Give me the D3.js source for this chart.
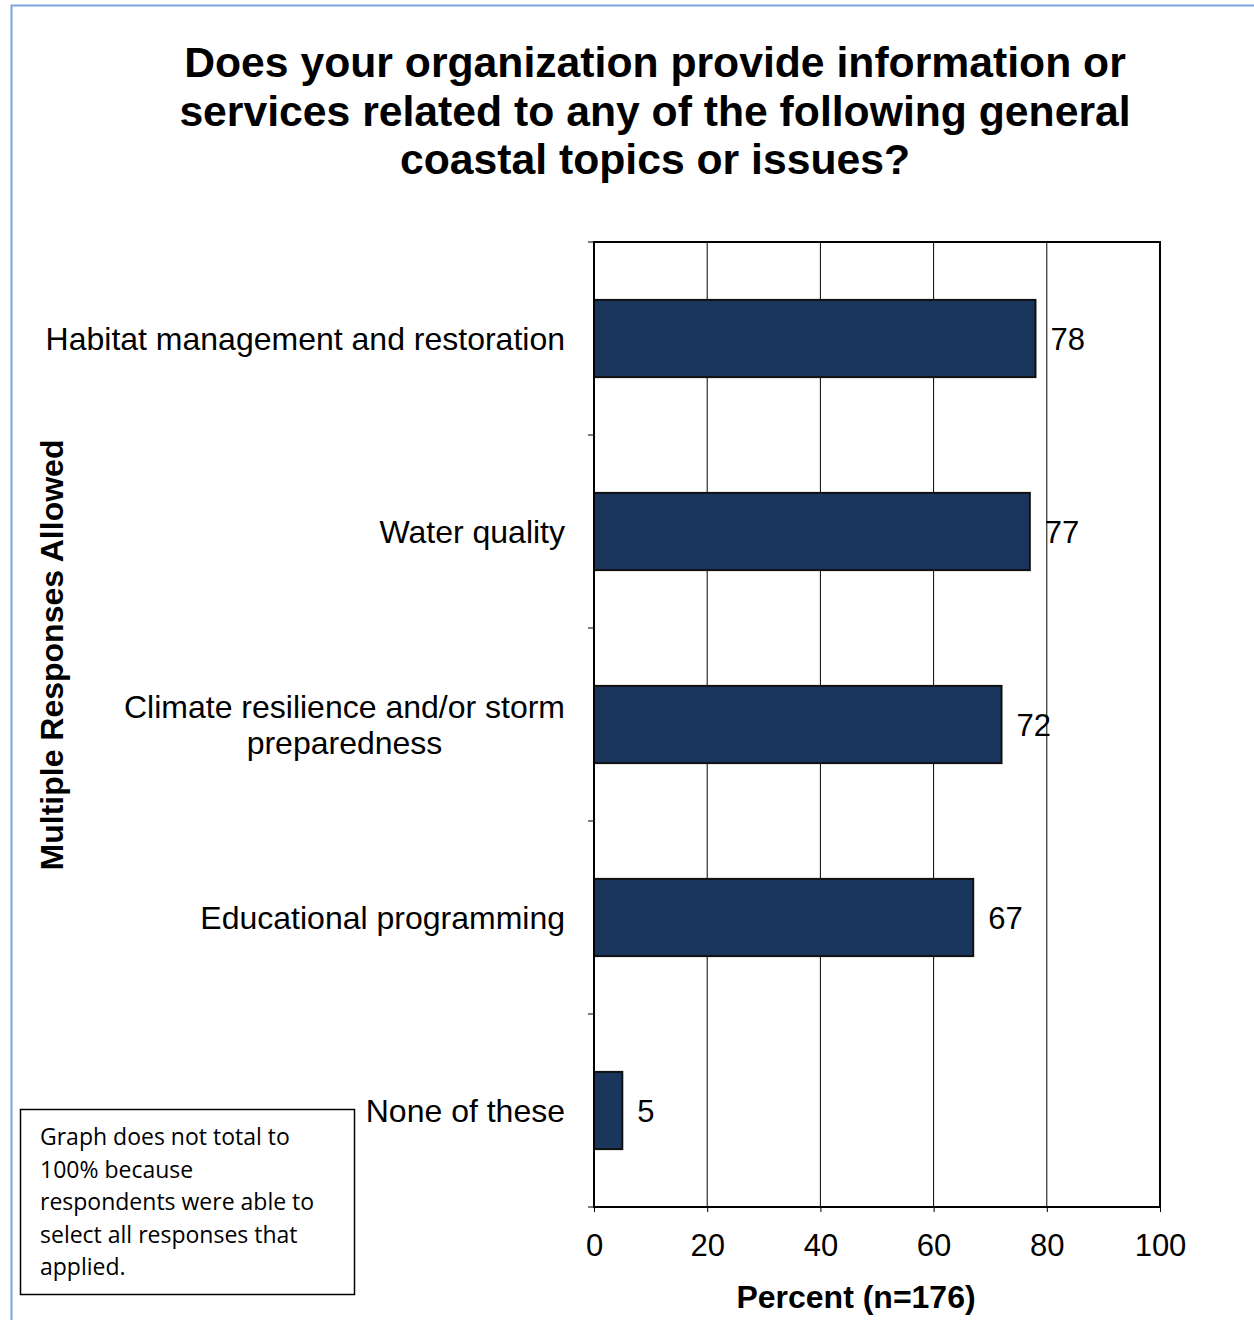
<!DOCTYPE html>
<html><head><meta charset="utf-8">
<script src="https://cdn.jsdelivr.net/npm/d3@7"></script>
<style>body{margin:0;background:#fff}svg{display:block}</style>
</head><body><svg id="c" width="1254" height="1320"></svg>
<script>
const categories = [["Habitat management and restoration"],["Water quality"],["Climate resilience and/or storm","preparedness"],["Educational programming"],["None of these"]];
const values = [78,77,72,67,5];
const xTicks = [0,20,40,60,80,100];
const titleLines = ["Does your organization provide information or","services related to any of the following general","coastal topics or issues?"];
const noteLines = ["Graph does not total to","100% because","respondents were able to","select all responses that","applied."];

const FF = "'Liberation Sans', Arimo, Arial, sans-serif";
const svg = d3.select("#c");
const L=594,R=1160,T=242,B=1207;
const x = d3.scaleLinear().domain([0,100]).range([L,R]);
const y = d3.scaleBand().domain(d3.range(categories.length)).range([T,B]).paddingInner(0.6).paddingOuter(0.3);
const band = d3.scaleBand().domain(d3.range(categories.length)).range([T,B]);

// outer frame
svg.append("path").attr("d",`M11.5,1320 V5.5 H1254`).attr("fill","none").attr("stroke","#7da6df").attr("stroke-width",2);

// title
svg.append("text").attr("text-anchor","middle")
 .style("font-family",FF).style("font-weight","bold").style("font-size","42.7px")
 .selectAll("tspan").data(titleLines).join("tspan").attr("x",655).attr("y",(d,i)=>77+i*48.5).text(d=>d);

// gridlines
svg.append("g").selectAll("line").data(xTicks.slice(1,-1)).join("line")
 .attr("x1",d=>x(d)).attr("x2",d=>x(d)).attr("y1",T).attr("y2",B).attr("stroke","#000").attr("stroke-width",1);

// bars
svg.append("g").selectAll("rect").data(values).join("rect")
 .attr("x",x(0)).attr("y",(d,i)=>y(i)).attr("width",d=>x(d)-x(0)).attr("height",y.bandwidth())
 .attr("fill","#1b365d").attr("stroke","#111").attr("stroke-width",2);

// frame
svg.append("rect").attr("x",L).attr("y",T).attr("width",R-L).attr("height",B-T).attr("fill","none").attr("stroke","#000").attr("stroke-width",2);

// y ticks
svg.append("g").selectAll("line").data(d3.range(categories.length+1)).join("line")
 .attr("x1",L-6).attr("x2",L).attr("y1",d=>T+d*band.step()).attr("y2",d=>T+d*band.step()).attr("stroke","#000").attr("stroke-width",1);

// x axis
const xa = svg.append("g").attr("transform",`translate(0,${B})`).call(d3.axisBottom(x).tickValues(xTicks).tickSize(5).tickPadding(22));
xa.select(".domain").remove();
xa.selectAll("text").style("font-family",FF).style("font-size","31px").attr("fill","#000");

// data labels
svg.append("g").selectAll("text").data(values).join("text")
 .attr("x",d=>x(d)+15).attr("y",(d,i)=>y(i)+y.bandwidth()/2+11)
 .style("font-family",FF).style("font-size","31px").text(d=>d);

// category labels
const cl = svg.append("g").selectAll("text").data(categories).join("text")
 .attr("text-anchor","middle")
 .style("font-family",FF).style("font-size","32px");
cl.each(function(lines,i){
  const t=d3.select(this);
  const cy=band(i)+band.bandwidth()/2;
  lines.forEach((s,j)=>{
    t.append("tspan").attr("x",0).attr("y",cy+11+(j-(lines.length-1)/2)*36).text(s);
  });
  const w=this.getBBox().width;
  t.selectAll("tspan").attr("x",565-w/2);
});

// axis titles
svg.append("text").attr("x",856).attr("y",1308).attr("text-anchor","middle")
 .style("font-family",FF).style("font-weight","bold").style("font-size","32px").text("Percent (n=176)");
svg.append("text").attr("transform","translate(63,655) rotate(-90)").attr("text-anchor","middle")
 .style("font-family",FF).style("font-weight","bold").style("font-size","32px").text("Multiple Responses Allowed");

// note box
svg.append("rect").attr("x",20.5).attr("y",1109.5).attr("width",334).attr("height",185).attr("fill","#fff").attr("stroke","#000").attr("stroke-width",1.5);
svg.append("text").style("font-family","'Open Sans', 'Noto Sans', sans-serif").style("font-size","23px")
 .selectAll("tspan").data(noteLines).join("tspan").attr("x",40).attr("y",(d,i)=>1145+i*32.5).text(d=>d);
</script></body></html>
